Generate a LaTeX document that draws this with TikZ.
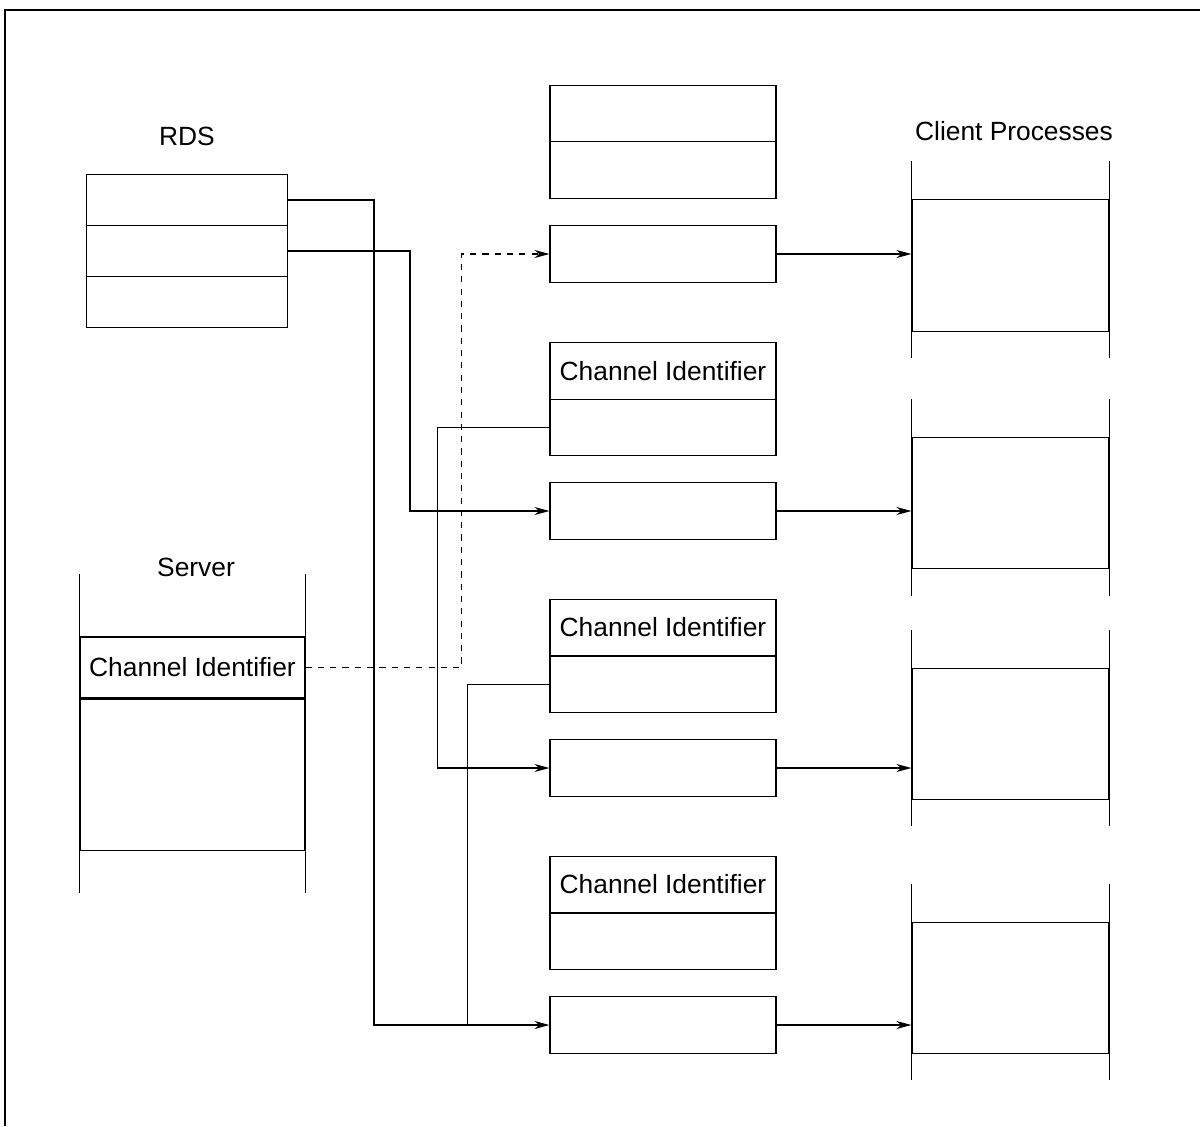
\documentclass[tikz,border=0pt]{standalone}
\usepackage{fontspec}
\setmainfont{Liberation Sans}
\usetikzlibrary{arrows.meta}

\tikzset{
  every node/.style={font=\fontsize{15}{18}\selectfont},
  rdsrow/.style={draw, minimum width=4.02cm, minimum height=1.02cm, inner sep=0pt},
  midbox/.style={draw, minimum width=4.52cm, minimum height=1.13cm, inner sep=0pt},
  cprow/.style={draw, minimum width=3.94cm, minimum height=2.63cm, inner sep=0pt},
  conn/.style={line width=0.7pt, -{Stealth[length=3mm,width=1.6mm]}},
  dashconn/.style={conn, dash pattern=on 3.5pt off 3.5pt}
}

\begin{document}
\begin{tikzpicture}[x=0.02cm, y=-0.02cm, line width=0.7pt]
            \useasboundingbox (0,0) rectangle (1200,1126);
            \draw[line width=1pt] (5,1126) -- (5,10) -- (1200,10);

            % RDS table
            \node (rdslbl) at (187,136) {RDS};
            \node[rdsrow] (rds1) at (187,200) {};
            \node[rdsrow] (rds2) at (187,251) {};
            \node[rdsrow] (rds3) at (187,302) {};

            % middle column
            \node[midbox] (top1) at (663,113.5) {};
            \node[midbox] (top2) at (663,170) {};
            \node[midbox] (boxA) at (663,254) {};
            \node[midbox] (ci1a) at (663,371) {Channel Identifier};
            \node[midbox] (ci1b) at (663,427.5) {};
            \node[midbox] (boxB) at (663,511) {};
            \node[midbox] (ci2a) at (663,627.5) {Channel Identifier};
            \node[midbox] (ci2b) at (663,684.5) {};
            \node[midbox] (boxC) at (663,768) {};
            \node[midbox] (ci3a) at (663,884.5) {Channel Identifier};
            \node[midbox] (ci3b) at (663,941.5) {};
            \node[midbox] (boxD) at (663,1025) {};

            % client processes
            \node (cplbl) at (1014,131) {Client Processes};
            \node[cprow] (cp1) at (1010.5,265.5) {};
            \node[cprow] (cp2) at (1010.5,503) {};
            \node[cprow] (cp3) at (1010.5,734) {};
            \node[cprow] (cp4) at (1010.5,988) {};
            \draw (cp1.north west) -- ++(0,-38) (cp1.north east) -- ++(0,-38);
            \draw (cp1.south west) -- ++(0,26) (cp1.south east) -- ++(0,26);
            \draw (cp2.north west) -- ++(0,-38) (cp2.north east) -- ++(0,-38);
            \draw (cp2.south west) -- ++(0,27) (cp2.south east) -- ++(0,27);
            \draw (cp3.north west) -- ++(0,-38) (cp3.north east) -- ++(0,-38);
            \draw (cp3.south west) -- ++(0,26) (cp3.south east) -- ++(0,26);
            \draw (cp4.north west) -- ++(0,-38) (cp4.north east) -- ++(0,-38);
            \draw (cp4.south west) -- ++(0,26) (cp4.south east) -- ++(0,26);

            % server
            \node (srvlbl) at (196,567) {Server};
            \node[draw, minimum width=4.5cm, minimum height=1.22cm, inner sep=0pt] (srvci) at (192.5,667.5) {Channel Identifier};
            \node[draw, minimum width=4.5cm, minimum height=3.02cm, inner sep=0pt, anchor=north] (srvbody) at (srvci.south) {};
            \draw (srvci.north west) -- ++(0,-62) (srvci.north east) -- ++(0,-62);
            \draw (srvbody.south west) -- ++(0,42) (srvbody.south east) -- ++(0,42);

            % connections
            \draw [conn] (rds1.east) -- ++(86,0) |- (boxD.west);
            \draw [conn] (rds2.east) -- ++(122,0) |- (boxB.west);
            \draw [conn] (ci1b.west) -- ++(-112,0) |- (boxC.west);
            \draw (ci2b.west) -- ++(-82,0) coordinate (jn) -- (jn |- boxD.west);
            \draw [dashconn] (srvci.east) -- ++(156,0) |- (boxA.west);
            \draw [conn] (boxA.east) -- (boxA.east -| cp1.west);
            \draw [conn] (boxB.east) -- (boxB.east -| cp2.west);
            \draw [conn] (boxC.east) -- (boxC.east -| cp3.west);
            \draw [conn] (boxD.east) -- (boxD.east -| cp4.west);
        \end{tikzpicture}
\end{document}
